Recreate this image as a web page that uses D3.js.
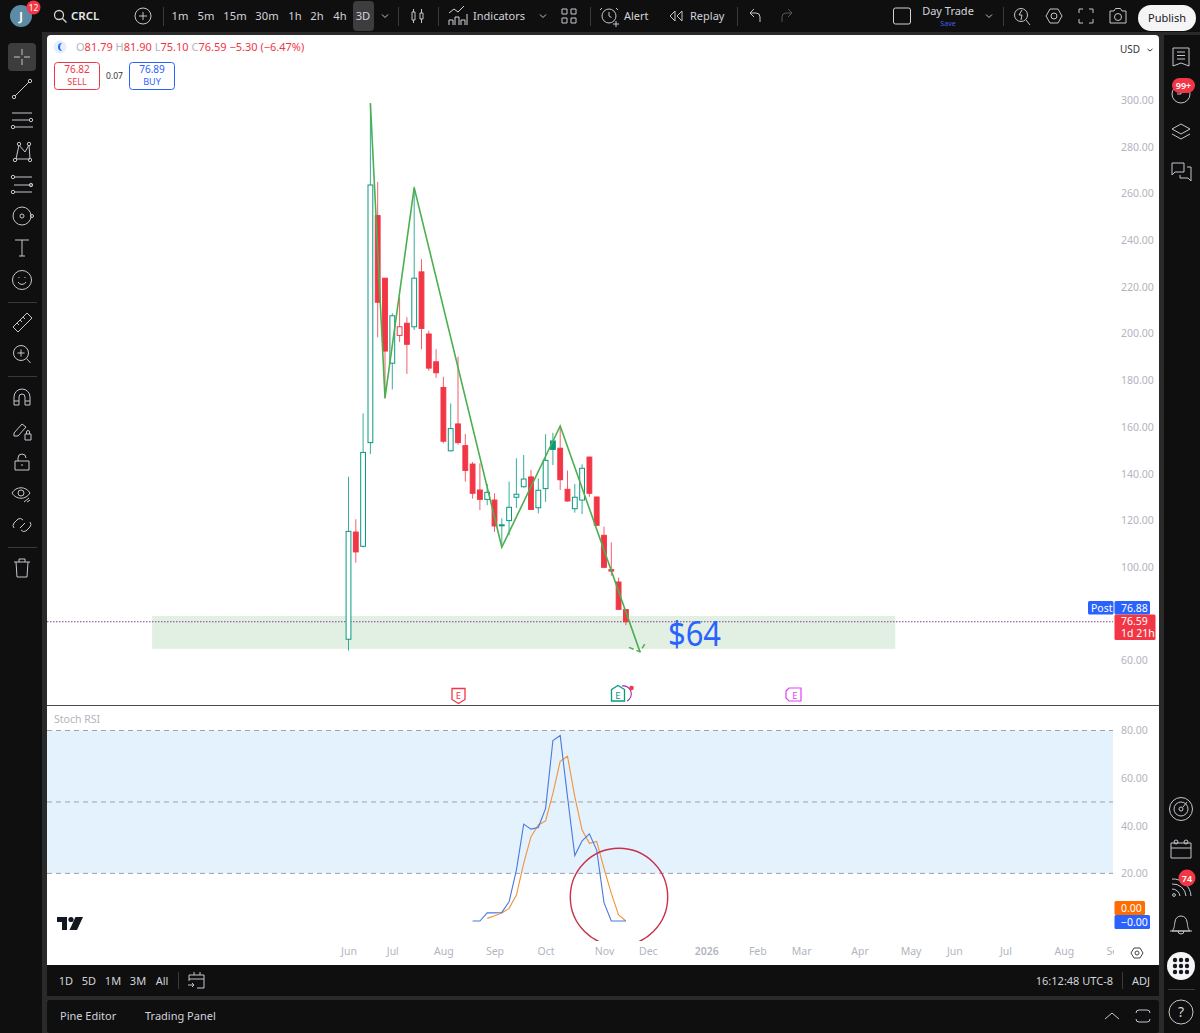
<!DOCTYPE html>
<html>
<head>
<meta charset="utf-8">
<script src="https://cdn.jsdelivr.net/npm/d3@7"></script>
<style>
html,body{margin:0;padding:0;background:#0f0f0f;overflow:hidden}
svg{display:block}
text{font-family:"Noto Sans",sans-serif}
</style>
</head>
<body>
<div id="viz"></div>
<script>
// candles, bar index 0 is the first bar on the chart
const opens  = [69.1,115,108.9,153.3,250.5,223.7,187.3,199.2,204.4,202.9,226.4,199.8,187.9,176.9,149.8,161.3,152,144.1,133,129,128.7,117.9,119.9,129.9,134.4,138.6,125.4,133.6,154,150.9,133.3,125,128.7,147.1,130,113.6,98.9,93.6,81.79];
const highs  = [138.7,120.5,165.8,298.6,264.9,223.7,208.7,215.5,207,262.9,231.8,201.2,193.3,181.5,170.1,190.1,157,145,144.4,135.6,131.6,120.9,136.6,146.6,148,141.6,138,156.9,157.5,160.1,141.3,135.6,144,147.3,130.2,117.3,110.6,95.5,81.9];
const lows   = [64.2,101.9,108.4,148.4,198.4,172,176.1,196.4,182.7,201.5,193.3,184.1,181,153,149.5,152.4,136.6,129.3,124.4,126.5,115.1,109.5,113.6,125.3,134,124.5,123,127.9,143.7,133,128,123.3,122.7,130.1,117.7,99.5,96.3,81.6,75.1];
const closes = [115.3,106.5,149.1,263.6,213.4,192.5,207.6,202.9,195.4,223.7,202.2,185.2,183.2,153.9,159.3,153.3,141.4,131.6,129,132,117.6,118.1,125.6,131.2,137.7,124.7,132.9,145.7,150.4,137.4,128.3,129.9,142.3,131.6,117.9,99.9,98.3,81.9,76.59];

// zigzag drawing
const zigBars   = [3,5,9,21,29,39.93];
const zigPrices = [298.6,172.5,262.5,108.5,160.4,63.7];

// support zone, in bars and price
const zoneBars   = [-26.9,74.9];
const zonePrices = [65,79.1];

const lastPrice = 76.59;

// stoch rsi
const kStart = 17;
const kValues = [0,0,3.4,3.4,3.6,8.1,21.4,40.7,38.6,39.3,47.3,75.8,77.9,52.1,27.5,33.7,36.6,29.8,7.7,0,0,0];
const dStart = 19;
const dValues = [1.1,2.2,3.4,5.3,10.9,24.2,35.4,40.3,42,53.6,67.1,69.2,52.2,38.2,32.6,33.4,22.1,11.6,2.5,0];

const priceTicks = [60,100,120,140,160,180,200,220,240,260,280,300];
const rsiTicks = [20,40,60,80];
const rsiLevels = [20,50,80];
const monthBars = [0,6,13,20,27,35,41,49,56,62,70,77,83,90,98,105];
const monthLabels = ["Jun","Jul","Aug","Sep","Oct","Nov","Dec","2026","Feb","Mar","Apr","May","Jun","Jul","Aug","Sep"];

const timeframes = ["1m","5m","15m","30m","1h","2h","4h","3D"];
const timeframeX = [180,206,235,267,295,317,340,363];
const ranges = ["1D","5D","1M","3M","All"];
const rangeX = [66,89,113,138,162];

const RED="#f23645", GREEN="#089981", BLUE="#2962ff", ORANGE="#ff6d00", UI="#d1d4dc", AXIS="#b2b5be";

const svg = d3.select("#viz").append("svg").attr("width",1200).attr("height",1033);
const defs = svg.append("defs");
defs.append("clipPath").attr("id","rsiClip").append("rect").attr("x",47).attr("y",707).attr("width",1066).attr("height",234);
defs.append("clipPath").attr("id","axisClip").append("rect").attr("x",47).attr("y",940).attr("width",1067).attr("height",25);

// window frame
svg.append("rect").attr("width",1200).attr("height",1033).attr("fill","#0f0f0f");
svg.append("rect").attr("x",42).attr("y",32).attr("width",1122).attr("height",1001).attr("fill","#2a2a2a");
svg.append("rect").attr("x",42).attr("y",32).attr("width",1158).attr("height",3).attr("fill","#2a2a2a");
svg.append("rect").attr("x",47).attr("y",35).attr("width",1112).attr("height",940).attr("rx",4).attr("fill","#fff");
svg.append("rect").attr("x",47).attr("y",965).attr("width",1112).attr("height",31).attr("fill","#0f0f0f");
svg.append("rect").attr("x",47).attr("y",1000).attr("width",1112).attr("height",33).attr("rx",3).attr("fill","#0f0f0f");

const x = d3.scaleLinear().domain([0,1]).range([348.5,355.8]);
const y = d3.scaleLinear().domain([60,300]).range([660.5,100]);
const yRsi = d3.scaleLinear().domain([0,80]).range([921,730.5]);

// main pane
svg.append("rect")
    .attr("x",x(zoneBars[0])).attr("width",x(zoneBars[1])-x(zoneBars[0]))
    .attr("y",y(zonePrices[1])).attr("height",y(zonePrices[0])-y(zonePrices[1]))
    .attr("fill","#e1f0e2");

svg.append("line").attr("x1",47).attr("x2",1113).attr("y1",y(lastPrice)).attr("y2",y(lastPrice))
    .attr("stroke","#7e3f8f").attr("stroke-width",1.1).attr("stroke-dasharray","1.5 1.5");

const bars = d3.range(opens.length).map(i=>({
    i:i, o:opens[i], h:highs[i], l:lows[i], c:closes[i],
    col:(i==0||closes[i]>=closes[i-1])?GREEN:RED,
    hollow:closes[i]>=opens[i]
}));

const candle = svg.selectAll(".candle").data(bars).enter().append("g").attr("class","candle");
candle.append("line")
    .attr("x1",d=>x(d.i)).attr("x2",d=>x(d.i))
    .attr("y1",d=>y(d.h)).attr("y2",d=>y(d.l))
    .attr("stroke",d=>d.col).attr("stroke-opacity",.8);
candle.append("rect")
    .attr("x",d=>x(d.i)-2.4).attr("width",4.8)
    .attr("y",d=>y(Math.max(d.o,d.c))).attr("height",d=>Math.max(1,Math.abs(y(d.o)-y(d.c))))
    .attr("fill",d=>d.hollow?"#fff":d.col)
    .attr("stroke",d=>d.col);

const zig = d3.line().x(d=>x(d[0])).y(d=>y(d[1]));
const zigData = d3.zip(zigBars,zigPrices);
svg.append("path").attr("d",zig(zigData)).attr("fill","none").attr("stroke","#4caf50").attr("stroke-width",1.6);
const tip = zigData[zigData.length-1];
svg.append("path")
    .attr("d",`M${x(tip[0])-11},${y(tip[1])-4.5}L${x(tip[0])},${y(tip[1])}L${x(tip[0])+6},${y(tip[1])-10}`)
    .attr("fill","none").attr("stroke","#4caf50").attr("stroke-width",1.5).attr("stroke-dasharray","5 3");

svg.append("text").attr("x",668).attr("y",646).attr("font-size",34).attr("fill",BLUE)
    .attr("textLength",53).attr("lengthAdjust","spacingAndGlyphs").text("$64");

const priceAxis = d3.axisRight(y).tickValues(priceTicks).tickSize(0).tickPadding(8).tickFormat(d3.format(".2f"));
svg.append("g").attr("transform","translate(1113,0)").call(priceAxis)
    .call(g=>g.select(".domain").remove())
    .selectAll("text").attr("fill",AXIS).attr("font-size",10.5).attr("font-family","Noto Sans");

// legend
const legend = svg.append("text").attr("x",76).attr("y",51).attr("font-size",11);
[["O","81.79 "],["H","81.90 "],["L","75.10 "],["C","76.59 "]].forEach(p=>{
    legend.append("tspan").attr("fill",AXIS).text(p[0]);
    legend.append("tspan").attr("fill",RED).text(p[1]);
});
legend.append("tspan").attr("fill",RED).text("\u22125.30 (\u22126.47%)");
svg.append("circle").attr("cx",60).attr("cy",47).attr("r",6.5).attr("fill","#e3effd");
svg.append("path").attr("d","M62,43A4,4 0 1 0 62,51A5,5 0 0 1 62,43Z").attr("fill",BLUE);

function tradeBox(left,col,price,label){
    svg.append("rect").attr("x",left).attr("y",62.5).attr("width",45).attr("height",27).attr("rx",3).attr("fill","#fff").attr("stroke",col);
    svg.append("text").attr("x",left+22.5).attr("y",73).attr("text-anchor","middle").attr("font-size",10).attr("fill",col).text(price);
    svg.append("text").attr("x",left+22.5).attr("y",85).attr("text-anchor","middle").attr("font-size",9).attr("fill",col).text(label);
}
tradeBox(54.5,RED,"76.82","SELL");
tradeBox(129.5,BLUE,"76.89","BUY");
svg.append("text").attr("x",114.5).attr("y",79).attr("text-anchor","middle").attr("font-size",8.5).attr("fill","#333").text("0.07");

svg.append("text").attr("x",1120).attr("y",53).attr("font-size",10).attr("fill","#333").text("USD");
svg.append("path").attr("d","M1147.5,49l2.5,2l2.5,-2").attr("fill","none").attr("stroke","#333");

// price labels
function tag(xx,yy,w,h,col){
    svg.append("rect").attr("x",xx).attr("y",yy).attr("width",w).attr("height",h).attr("rx",1.5).attr("fill",col);
}
function tagText(xx,yy,s,anchor){
    svg.append("text").attr("x",xx).attr("y",yy).attr("font-size",10.5).attr("fill","#fff").attr("text-anchor",anchor||"start").text(s);
}
tag(1088,601,25.5,13.5,BLUE); tagText(1091,611.5,"Post");
tag(1114.5,601,35.5,13.5,BLUE); tagText(1121,611.5,"76.88");
tag(1114.5,614.5,41,25.5,RED); tagText(1121,625,"76.59"); tagText(1121,637,"1d 21h");

// earnings markers
svg.append("path").attr("d","M452,688.5h13v11l-6.5,4l-6.5,-4Z").attr("fill","#fff").attr("stroke",RED).attr("stroke-width",1.3);
svg.append("text").attr("x",458.5).attr("y",698.5).attr("text-anchor","middle").attr("font-size",9.5).attr("fill",RED).text("E");
svg.append("path").attr("d","M611.5,689.5l6.5,-4l6.5,4v11.5h-13Z").attr("fill","#fff").attr("stroke",GREEN).attr("stroke-width",1.3);
svg.append("text").attr("x",618).attr("y",698.5).attr("text-anchor","middle").attr("font-size",9.5).attr("fill",GREEN).text("E");
svg.append("path").attr("d","M622,686A8,8 0 0 1 627,701").attr("fill","none").attr("stroke","#9c27b0").attr("stroke-width",1.1);
svg.append("circle").attr("cx",631.5).attr("cy",688).attr("r",2.3).attr("fill",RED);
svg.append("path").attr("d","M786,691l3,-3h12v13h-12l-3,-3Z").attr("fill","#fff").attr("stroke","#e040fb").attr("stroke-width",1.2);
svg.append("text").attr("x",795).attr("y",698.5).attr("text-anchor","middle").attr("font-size",9.5).attr("fill","#e040fb").text("E");

svg.append("line").attr("x1",47).attr("x2",1159).attr("y1",705.5).attr("y2",705.5).attr("stroke","#4a4a4f").attr("stroke-width",1.2);

// stoch rsi pane
svg.append("text").attr("x",54).attr("y",723).attr("font-size",10.5).attr("fill",AXIS).text("Stoch RSI");
svg.append("rect").attr("x",47).attr("width",1066)
    .attr("y",yRsi(80)).attr("height",yRsi(20)-yRsi(80)).attr("fill","#e3f2fd");
svg.selectAll(".level").data(rsiLevels).enter().append("line").attr("class","level")
    .attr("x1",47).attr("x2",1113).attr("y1",d=>yRsi(d)).attr("y2",d=>yRsi(d))
    .attr("stroke","#9598a1").attr("stroke-dasharray","5 4").attr("stroke-width",.9);

const rsiLine = d3.line().x(d=>x(d[0])).y(d=>yRsi(d[1]));
svg.append("path").attr("d",rsiLine(dValues.map((v,i)=>[dStart+i,v])))
    .attr("fill","none").attr("stroke","#f0933a").attr("stroke-width",1.1);
svg.append("path").attr("d",rsiLine(kValues.map((v,i)=>[kStart+i,v])))
    .attr("fill","none").attr("stroke","#4a78e0").attr("stroke-width",1.1);

svg.append("circle").attr("cx",619).attr("cy",897).attr("r",48.7).attr("clip-path","url(#rsiClip)")
    .attr("fill","none").attr("stroke","#c9304a").attr("stroke-width",1.4);

const rsiAxis = d3.axisRight(yRsi).tickValues(rsiTicks).tickSize(0).tickPadding(8).tickFormat(d3.format(".2f"));
svg.append("g").attr("transform","translate(1113,0)").call(rsiAxis)
    .call(g=>g.select(".domain").remove())
    .selectAll("text").attr("fill",AXIS).attr("font-size",10.5).attr("font-family","Noto Sans");

tag(1114.5,901,30.5,14,ORANGE); tagText(1121,912,"0.00");
tag(1114.5,915,35.5,14,BLUE); tagText(1121,926,"\u22120.00");

// tradingview mark
svg.append("path").attr("d","M57,917h10v13h-5v-8h-5Z").attr("fill","#131722");
svg.append("circle").attr("cx",71).attr("cy",919.5).attr("r",2.6).attr("fill","#131722");
svg.append("path").attr("d","M75.5,917h7.5l-6,13h-7.5Z").attr("fill","#131722");

// time axis
const timeAxis = d3.axisBottom(x).tickValues(monthBars).tickSize(0).tickPadding(0)
    .tickFormat((d,i)=>monthLabels[i]);
svg.append("g").attr("clip-path","url(#axisClip)")
    .append("g").attr("transform","translate(0,948)").call(timeAxis)
    .call(g=>g.select(".domain").remove())
    .selectAll("text").attr("fill",AXIS).attr("font-size",10.5).attr("font-family","Noto Sans")
    .attr("font-weight",d=>d==49?600:400);

// toolbars
function uiText(xx,yy,s,size,anchor,col,weight){
    svg.append("text").attr("x",xx).attr("y",yy).attr("font-size",size||11.2)
        .attr("text-anchor",anchor||"middle").attr("fill",col||UI).attr("font-weight",weight||400).text(s);
}
function icon(xx,yy,d,col,sw){
    svg.append("path").attr("transform",`translate(${xx},${yy})`).attr("d",d)
        .attr("fill","none").attr("stroke",col||"#c4c6cc").attr("stroke-width",sw||1);
}
const circ = (cx,cy,r)=>`M${cx-r},${cy}a${r},${r} 0 1 0 ${2*r},0a${r},${r} 0 1 0 ${-2*r},0`;
function vsep(xx,y1,y2){
    svg.append("line").attr("x1",xx).attr("x2",xx).attr("y1",y1).attr("y2",y2).attr("stroke","#3a3a3e");
}
function hsep(yy,x1,x2){
    svg.append("line").attr("x1",x1).attr("x2",x2).attr("y1",yy).attr("y2",yy).attr("stroke","#3a3a3e");
}
const chevron = "M-3,-1.5l3,3l3,-3";

// top bar
svg.append("circle").attr("cx",21).attr("cy",16).attr("r",11).attr("fill","#5d8ba3");
uiText(21,21,"J",13,"middle","#fff",600);
svg.append("circle").attr("cx",33.5).attr("cy",7.5).attr("r",7).attr("fill",RED);
uiText(33.5,10.5,"12",8.5,"middle","#fff");
icon(60,16,circ(-1,-1,4.5)+"M2.5,2.5l4,4",UI,1.3);
uiText(71,20,"CRCL",11.5,"start","#e8e8e8",600);
icon(143,16,circ(0,0,8)+"M-4,0h8M0,-4v8");
vsep(163.5,7,26);
timeframes.forEach((t,i)=>{
    if(t=="3D") svg.append("rect").attr("x",353).attr("y",1).attr("width",21).attr("height",30).attr("rx",4).attr("fill","#3d3d3d");
    uiText(timeframeX[i],20,t,11.2);
});
icon(385,16,chevron);
vsep(398.5,7,26);
icon(418,16,"M-6,-4h3v8h-3ZM-4.5,-7v3M-4.5,4v3M2,-3h3v6h-3ZM3.5,-7v4M3.5,3v4");
vsep(438.5,7,26);
icon(459,16,"M-10,-3l5,-4l4,3l6,-6M-10,9v-5h4v5M-4,9v-8h4v8M2,9v-5h4v5M8,9v-11h0",UI,1);
uiText(473,20,"Indicators",11,"start");
icon(543,16,chevron);
icon(569,16,"M-7,-7h5v5h-5ZM2,-7h5v5h-5ZM-7,2h5v5h-5ZM2,2h5v5h-5Z");
vsep(590.5,7,26);
icon(609,16,circ(0,0,7)+"M0,-4v4l2.5,1.5M-7,-8l-2,2M7,-8l2,2M4,8h6M7,5v6");
uiText(624,20,"Alert",11,"start");
icon(676,16,"M-1,-5l-5,5l5,5ZM6,-5l-5,5l5,5Z");
uiText(690,20,"Replay",11,"start");
vsep(737.5,7,26);
icon(755,16,"M-5,-3l4,-4M-5,-3l4,4M-5,-3h6a4,4 0 0 1 4,4v5");
icon(787,16,"M5,-3l-4,-4M5,-3l-4,4M5,-3h-6a4,4 0 0 0 -4,4v5","#55565a");
svg.append("rect").attr("x",893.5).attr("y",8).attr("width",17).attr("height",16).attr("rx",2).attr("fill","none").attr("stroke",UI);
uiText(948,15,"Day Trade",11);
uiText(948,26,"Save",7,"middle","#3f5fe0");
icon(989,16,chevron);
vsep(1003.5,7,26);
icon(1022,16,circ(-1,-1,6.5)+"M4,4l4,5M0,-6l-3,5h3l-1,5");
icon(1054,16,"M-8,0l4,-7h8l4,7l-4,7h-8Z"+circ(0,0,3));
icon(1086,16,"M-7,-3v-4h4M3,-7h4v4M7,3v4h-4M-3,7h-4v-4");
icon(1118,16,"M-8,-5h4l1.5,-2.5h5l1.5,2.5h4v12h-16Z"+circ(0,1,3.5));
svg.append("rect").attr("x",1138).attr("y",5).attr("width",58).attr("height",26).attr("rx",13).attr("fill","#f5f5f5");
uiText(1167,22,"Publish",11,"middle","#131722");

// left toolbar
svg.append("rect").attr("x",8).attr("y",43).attr("width",28).attr("height",28).attr("rx",4).attr("fill","#3d3d3d");
icon(22,57,"M-8,0h6M2,0h6M0,-8v6M0,2v6");
icon(22,89,"M-7,7L7,-7"+circ(-8,8,1.7)+circ(8,-8,1.7));
icon(22,120,"M-10,-7h20M-10,0h17M-7,7h18"+circ(9,0,1.7)+circ(-9,7,1.7));
icon(22,152,"M-6,7L-3,-7L3,0L7,-7L8,7L-6,7"+circ(-7,8,1.7)+circ(-3,-8,1.7)+circ(7,-8,1.7)+circ(8,8,1.7));
icon(22,184,"M-8,-7h18M-8,1h18M-8,8h18"+circ(-9,-7,1.7)+circ(9,1,1.7)+circ(-9,8,1.7));
icon(22,216,circ(0,0,9)+circ(0,0,2)+circ(10,0,1.5));
icon(22,248,"M-7,-8h14M0,-8v16M-3,8h6");
icon(22,280,circ(0,0,9.5)+"M-4,2a4.5,4.5 0 0 0 8,0M-3,-3v1M3,-3v1");
hsep(302.5,8,37);
icon(22,322,"M-9,5L5,-9L10,-4L-4,10ZM-5,1l2,2M-2,-2l2,2M1,-5l2,2");
icon(22,354,circ(-1,-1,7.5)+"M-1,-4.5v7M-4.5,-1h7M4.5,4.5l4,4.5");
hsep(376.5,8,37);
icon(22,397,"M-8,8v-8a8,8 0 0 1 16,0v8h-5v-8a3,3 0 0 0 -6,0v8ZM-8,4h5M3,4h5");
icon(21,430,"M-7,3l8,-9l4,3l-8,9h-4ZM4,4h6v6h-6ZM5.5,4v-2a1.5,1.5 0 0 1 3,0v2");
icon(22,462,"M-7,-1h14v9h-14ZM-4,-1v-3a4,4 0 0 1 8,0M-1,3h2");
icon(21,494,"M-9,-1c4,-7 14,-7 18,0c-4,7 -14,7 -18,0"+circ(0,-1,3)+"M3,8l5,-4M6,8l3,-2");
icon(22,525,"M-8,3a4,4 0 0 1 0,-5l4,-4a4,4 0 0 1 5,1M8,-3a4,4 0 0 1 0,5l-4,4a4,4 0 0 1 -5,-1M-2,3l5,-5");
hsep(547.5,8,37);
icon(22,568,"M-8,-6h16M-3,-6v-3h6v3M-6,-6l1,15h10l1,-15");

// right toolbar
icon(1181,57,"M-8,-9h16v18l-8,-3l-8,3ZM-4,-5h8M-4,-1.5h8M-4,2h8");
icon(1181,94,circ(0,0,9)+"M0,-5v5h-4");
svg.append("rect").attr("x",1172).attr("y",78).attr("width",23).attr("height",15).attr("rx",7.5).attr("fill",RED);
uiText(1183.5,89,"99+",9,"middle","#fff",600);
icon(1181,133,"M0,-9l9,5l-9,5l-9,-5ZM-9,1l9,5l9,-5");
icon(1181,172,"M-9,-9h12v9h-9l-3,3ZM6,-5h4v9v5l-3,-3h-8v-3");
icon(1181,809,circ(0,0,11.5)+circ(0,0,7)+circ(0,0,2)+"M2,-2l4,-5");
icon(1181,849,"M-10,-6h20v15h-20ZM-10,-1h20M-5,-9a2,2 0 0 1 0,4a2,2 0 0 1 0,-4M5,-9a2,2 0 0 1 0,4a2,2 0 0 1 0,-4");
icon(1181,887,circ(-7,8,1.4)+"M-9,2a8,8 0 0 1 8,7M-9,-3a13,13 0 0 1 14,12M-9,-8a18,18 0 0 1 19,17");
svg.append("circle").attr("cx",1187).attr("cy",878).attr("r",8.5).attr("fill",RED);
uiText(1187,881.5,"74",9,"middle","#fff",600);
icon(1181,925,"M-9,6c3,-3 2,-6 3,-9a6,6 0 0 1 12,0c1,3 0,6 3,9ZM-11,6h22M-3,6a3,3 0 0 0 6,0");
svg.append("circle").attr("cx",1181).attr("cy",966).attr("r",14).attr("fill","#f5f5f5");
svg.selectAll(".dot").data(d3.cross([-6,0,6],[-6,0,6])).enter().append("circle").attr("class","dot")
    .attr("cx",d=>1181+d[0]).attr("cy",d=>966+d[1]).attr("r",2.2).attr("fill","#131722");
hsep(989.5,1168,1195);
icon(1181,1012,circ(0,0,12));
uiText(1181,1017,"?",14,"middle",UI);

// pane settings
icon(1137,953,"M-6,0l3,-5h6l3,5l-3,5h-6Z"+circ(0,0,2),"#444");

// bottom bars
ranges.forEach((r,i)=>uiText(rangeX[i],985,r,11));
vsep(178.5,972,989);
icon(197,981,"M-8,-6h15v13h-7M-8,-6v6M-8,-2h15M-3,-9v3M3,-9v3M-9,4h6M-5,2l2,2l-2,2");
uiText(1113,985,"16:12:48 UTC-8",11,"end");
vsep(1122.5,972,989);
uiText(1141,985,"ADJ",11);
uiText(60,1020,"Pine Editor",11,"start");
uiText(145,1020,"Trading Panel",11,"start");
icon(1112,1016,"M-7,3l7,-6l7,6");
icon(1143,1016,"M-7,-3a3,3 0 0 1 3,-3h8a3,3 0 0 1 3,3M7,3a3,3 0 0 1 -3,3h-8a3,3 0 0 1 -3,-3");
</script>
</body>
</html>
